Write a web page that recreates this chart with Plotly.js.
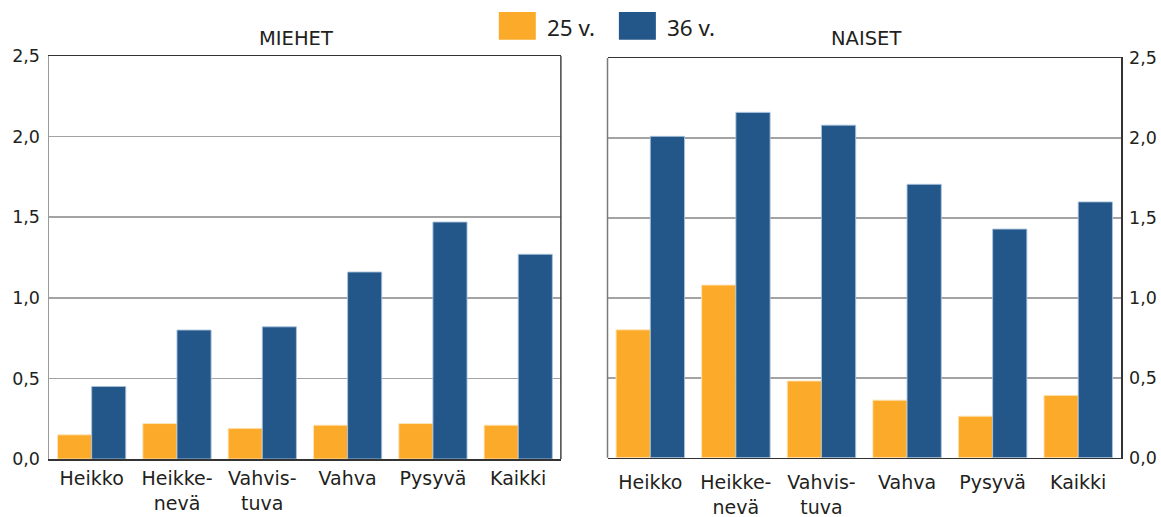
<!DOCTYPE html>
<html>
<head>
<meta charset="utf-8">
<script src="https://cdn.plot.ly/plotly-3.0.1.min.js"></script>
<style>html,body{margin:0;padding:0;background:#fff;}#chart{width:1161px;height:517px;}</style>
</head>
<body>
<div id="chart"></div>
<script>
// ---- data ----
const categories = ["Heikko", "Heikke-<br>nevä", "Vahvis-<br>tuva", "Vahva", "Pysyvä", "Kaikki"];
const seriesNames = ["25 v.", "36 v."];
const miehet25 = [0.15, 0.22, 0.19, 0.21, 0.22, 0.21];
const miehet36 = [0.45, 0.80, 0.82, 1.16, 1.47, 1.27];
const naiset25 = [0.80, 1.08, 0.48, 0.36, 0.26, 0.39];
const naiset36 = [2.01, 2.16, 2.08, 1.71, 1.43, 1.60];
const panelTitles = ["MIEHET", "NAISET"];
const yTickVals = [0, 0.5, 1.0, 1.5, 2.0, 2.5];
const yTickText = ["0,0", "0,5", "1,0", "1,5", "2,0", "2,5"];

// ---- styles ----
const ORANGE = "#FBAA29";
const BLUE = "#245789";
const FONT = "DejaVu Sans, Noto Sans, sans-serif";
const LFONT = "Noto Sans, Open Sans, sans-serif";
const TXT = "#231f20";

function barTrace(y, name, color, xa, ya, edge) {
  return {
    type: "bar", x: categories, y: y, name: name,
    xaxis: xa, yaxis: ya, showlegend: false,
    marker: {color: color, line: {color: edge, width: 1}},
    hoverinfo: "skip"
  };
}

const data = [
  barTrace(miehet25, seriesNames[0], ORANGE, "x", "y", "rgba(255,230,190,0.9)"),
  barTrace(miehet36, seriesNames[1], BLUE, "x", "y", "rgba(170,195,220,0.9)"),
  barTrace(naiset25, seriesNames[0], ORANGE, "x2", "y2", "rgba(255,230,190,0.9)"),
  barTrace(naiset36, seriesNames[1], BLUE, "x2", "y2", "rgba(170,195,220,0.9)")
];

const yTickFont = {family: FONT, size: 17.5, color: TXT};
const xTickFont = {family: FONT, size: 19, color: TXT};
const commonY = {
  range: [0, 2.5], tickvals: yTickVals, ticktext: yTickText,
  showgrid: true, gridcolor: "#a3a3a3", gridwidth: 1.5,
  zeroline: false, showline: true, linewidth: 1.5,
  ticks: "outside", ticklen: 4, tickcolor: "rgba(0,0,0,0)",
  tickfont: yTickFont, fixedrange: true
};
const commonX = {
  type: "category", showline: true, linecolor: "#333", linewidth: 1.5, mirror: true,
  showgrid: false, zeroline: false, tickfont: xTickFont,
  ticks: "outside", tickcolor: "rgba(0,0,0,0)", fixedrange: true
};

const layout = {
  width: 1161, height: 517,
  margin: {l: 49, r: 40, t: 56, b: 58},
  paper_bgcolor: "#fff", plot_bgcolor: "#fff",
  barmode: "group", bargap: 0.2, bargroupgap: 0,
  showlegend: false,
  font: {family: FONT, color: TXT},
  xaxis: Object.assign({}, commonX, {domain: [0, 0.4775], anchor: "y", ticklen: 2}),
  yaxis: Object.assign({}, commonY, {domain: [0, 1], anchor: "x", side: "left", linecolor: "#9a9a9a"}),
  xaxis2: Object.assign({}, commonX, {domain: [0.521, 1], anchor: "y2", ticklen: 7}),
  yaxis2: Object.assign({}, commonY, {domain: [0.0032, 0.995], anchor: "x2", side: "right", linecolor: "#333", ticklen: 3}),
  shapes: [
    // right edge of left panel
    {type: "line", xref: "x domain", yref: "y domain", x0: 1, x1: 1, y0: 0, y1: 1, line: {color: "#444", width: 1.5}},
    // left edge of right panel
    {type: "line", xref: "x2 domain", yref: "y2 domain", x0: 0, x1: 0, y0: 0, y1: 1, line: {color: "#7a7a7a", width: 1.5}},
    // legend swatches
    {type: "rect", xref: "paper", yref: "paper", xsizemode: "pixel", ysizemode: "pixel",
     xanchor: 0.4196, yanchor: 1.0, x0: 0, x1: 37, y0: 16.3, y1: 44, fillcolor: ORANGE, line: {width: 0}},
    {type: "rect", xref: "paper", yref: "paper", xsizemode: "pixel", ysizemode: "pixel",
     xanchor: 0.5316, yanchor: 1.0, x0: 0, x1: 37, y0: 16.3, y1: 44, fillcolor: BLUE, line: {width: 0}}
  ],
  annotations: [
    {text: panelTitles[0], xref: "x domain", yref: "paper", x: 0.4835, y: 1.0, yshift: 18,
     showarrow: false, xanchor: "center", yanchor: "middle", font: {family: FONT, size: 19.5, color: TXT}},
    {text: panelTitles[1], xref: "x2 domain", yref: "paper", x: 0.503, y: 1.0, yshift: 18,
     showarrow: false, xanchor: "center", yanchor: "middle", font: {family: FONT, size: 19.5, color: TXT}},
    {text: seriesNames[0], xref: "paper", yref: "paper", x: 0.4625, y: 1.0, yshift: 29,
     showarrow: false, xanchor: "left", yanchor: "middle", font: {family: LFONT, size: 22.5, color: TXT}},
    {text: seriesNames[1], xref: "paper", yref: "paper", x: 0.5745, y: 1.0, yshift: 29,
     showarrow: false, xanchor: "left", yanchor: "middle", font: {family: LFONT, size: 22.5, color: TXT}}
  ]
};

Plotly.newPlot("chart", data, layout, {displayModeBar: false, staticPlot: true});
</script>
</body>
</html>
